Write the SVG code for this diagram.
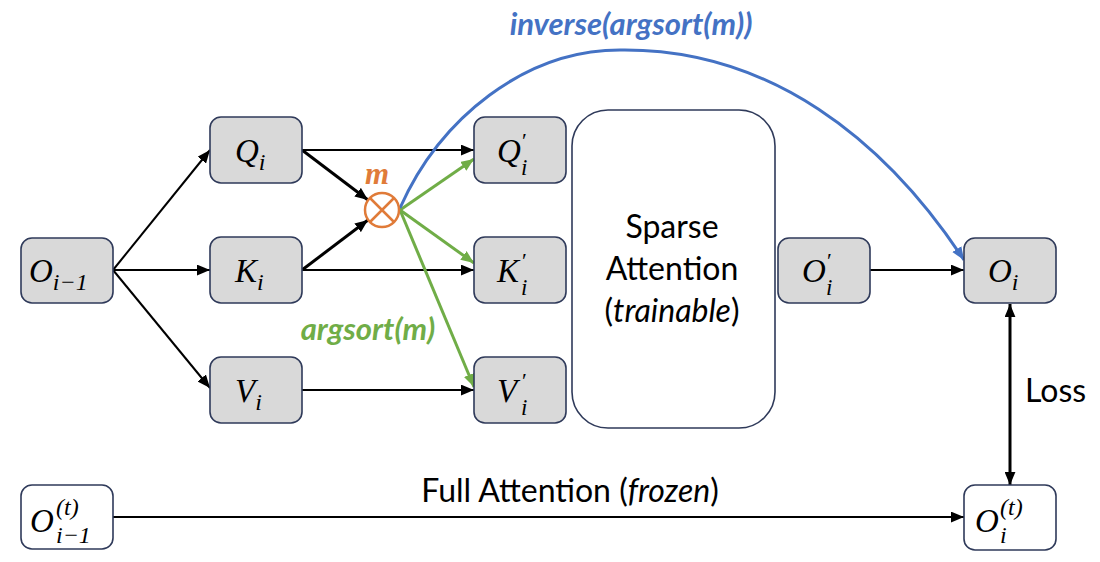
<svg xmlns="http://www.w3.org/2000/svg" width="1100" height="562" viewBox="0 0 1100 562">
<style>
.box{fill:#D9D9D9;stroke:#2F3A5A;stroke-width:1.6}
.wbox{fill:#FFFFFF;stroke:#2F3A5A;stroke-width:1.6}
.m{font-family:"Liberation Serif","DejaVu Serif",serif;font-style:italic;font-size:33px;fill:#000}
.s{font-size:24px}
.si{font-size:23px}
.p{font-size:22px;font-style:normal}
.lbl{font-family:Lato,"Open Sans",sans-serif;font-size:32px;fill:#000}
.blk{stroke:#000;stroke-width:2;fill:none}
.thk{stroke:#000;stroke-width:3;fill:none}
.grn{stroke:#70AD47;stroke-width:3;fill:none}
.blu{stroke:#4472C4;stroke-width:3;fill:none}
</style>
<defs>
<marker id="ab" viewBox="0 0 12 10" refX="12" refY="5" markerWidth="13" markerHeight="11" markerUnits="userSpaceOnUse" orient="auto-start-reverse"><path d="M0,0 L12,5 L0,10 z" fill="#000"/></marker>
<marker id="ag" viewBox="0 0 12 10" refX="12" refY="5" markerWidth="13" markerHeight="11" markerUnits="userSpaceOnUse" orient="auto"><path d="M0,0 L12,5 L0,10 z" fill="#70AD47"/></marker>
<marker id="au" viewBox="0 0 12 10" refX="12" refY="5" markerWidth="13" markerHeight="11" markerUnits="userSpaceOnUse" orient="auto"><path d="M0,0 L12,5 L0,10 z" fill="#4472C4"/></marker>
</defs>

<g id="connectors">
<path class="blk" d="M113,270 L210,150" marker-end="url(#ab)"/>
<path class="blk" d="M113,270 L210,270" marker-end="url(#ab)"/>
<path class="blk" d="M113,270 L210,388" marker-end="url(#ab)"/>
<path class="blk" d="M302,150 L474,150" marker-end="url(#ab)"/>
<path class="blk" d="M302,270 L474,270" marker-end="url(#ab)"/>
<path class="blk" d="M302,390 L474,390" marker-end="url(#ab)"/>
<path class="thk" d="M302,150 L368,200" marker-end="url(#ab)"/>
<path class="thk" d="M302,270 L368,220" marker-end="url(#ab)"/>
<path class="grn" d="M400,210 L474,159" marker-end="url(#ag)"/>
<path class="grn" d="M400,210 L474,263" marker-end="url(#ag)"/>
<path class="grn" d="M400,210 L474,387" marker-end="url(#ag)"/>
<path class="blu" d="M400,208 C440,118 525,50 620,50 C770,48 885,140 964,260" marker-end="url(#au)"/>
<path class="blk" d="M870,270 L964,270" marker-end="url(#ab)"/>
<path class="thk" d="M1010,304 L1010,485" marker-start="url(#ab)" marker-end="url(#ab)"/>
<path class="blk" d="M113,517 L964,517" marker-end="url(#ab)"/>
</g>

<g id="mult">
<circle cx="382" cy="210" r="17" fill="#fff" stroke="#E07B39" stroke-width="2.5"/>
<path d="M370,198 L394,222 M394,198 L370,222" stroke="#E07B39" stroke-width="2.5"/>
<text x="377" y="184" text-anchor="middle" font-family="Liberation Serif,DejaVu Serif,serif" font-style="italic" font-weight="bold" font-size="31" fill="#E07B39">m</text>
</g>

<g id="node-O-im1"><rect class="box" x="21" y="238" width="92" height="65" rx="11"/>
<text class="m" x="29" y="282">O<tspan class="s" dy="8">i−1</tspan></text></g>
<g id="node-Q"><rect class="box" x="210" y="117" width="92" height="66" rx="11"/>
<text class="m" x="235" y="162">Q<tspan class="s" dy="8">i</tspan></text></g>
<g id="node-K"><rect class="box" x="210" y="237" width="92" height="66" rx="11"/>
<text class="m" x="235" y="282">K<tspan class="s" dy="8">i</tspan></text></g>
<g id="node-V"><rect class="box" x="210" y="357" width="92" height="66" rx="11"/>
<text class="m" x="235" y="402">V<tspan class="s" dy="8">i</tspan></text></g>

<g id="node-Qp"><rect class="box" x="474" y="117" width="92" height="66" rx="11"/>
<text class="m" x="497" y="162">Q<tspan class="p" x="522" y="148">′</tspan><tspan class="si" x="521" y="175">i</tspan></text></g>
<g id="node-Kp"><rect class="box" x="474" y="237" width="92" height="66" rx="11"/>
<text class="m" x="497" y="282">K<tspan class="p" x="522" y="268">′</tspan><tspan class="si" x="521" y="295">i</tspan></text></g>
<g id="node-Vp"><rect class="box" x="474" y="357" width="92" height="66" rx="11"/>
<text class="m" x="497" y="402">V<tspan class="p" x="522" y="388">′</tspan><tspan class="si" x="521" y="415">i</tspan></text></g>

<g id="node-sparse"><rect class="wbox" x="572" y="110" width="203" height="318" rx="36"/>
<text class="lbl" x="672" y="238" text-anchor="middle">Sparse</text>
<text class="lbl" x="672" y="280" text-anchor="middle">Attention</text>
<text class="lbl" x="672" y="322" text-anchor="middle">(<tspan font-style="italic">trainable</tspan>)</text></g>

<g id="node-Op"><rect class="box" x="778" y="238" width="92" height="65" rx="11"/>
<text class="m" x="802" y="282">O<tspan class="p" x="827" y="268">′</tspan><tspan class="si" x="826" y="295">i</tspan></text></g>
<g id="node-O"><rect class="box" x="964" y="238" width="92" height="65" rx="11"/>
<text class="m" x="988" y="282">O<tspan class="s" dy="8">i</tspan></text></g>

<g id="node-Ot"><rect class="wbox" x="964" y="485" width="92" height="65" rx="11"/>
<text class="m" x="975" y="532">O<tspan class="s" x="1000" y="515">(t)</tspan><tspan class="s" x="1000" y="543">i</tspan></text></g>
<g id="node-Oim1t"><rect class="wbox" x="21" y="485" width="92" height="64" rx="11"/>
<text class="m" x="30" y="532">O<tspan class="s" x="56" y="515">(t)</tspan><tspan class="s" x="56" y="543">i−1</tspan></text></g>

<g id="labels">
<text x="631" y="35" text-anchor="middle" font-family="Lato,Open Sans,sans-serif" font-weight="bold" font-style="italic" font-size="31" fill="#4472C4">inverse(argsort(m))</text>
<text x="368" y="340" text-anchor="middle" font-family="Lato,Open Sans,sans-serif" font-weight="bold" font-style="italic" font-size="31" fill="#70AD47">argsort(m)</text>
<text class="lbl" x="1025" y="402">Loss</text>
<text class="lbl" x="570" y="502" text-anchor="middle">Full Attention (<tspan font-style="italic">frozen</tspan>)</text>
</g>
</svg>
